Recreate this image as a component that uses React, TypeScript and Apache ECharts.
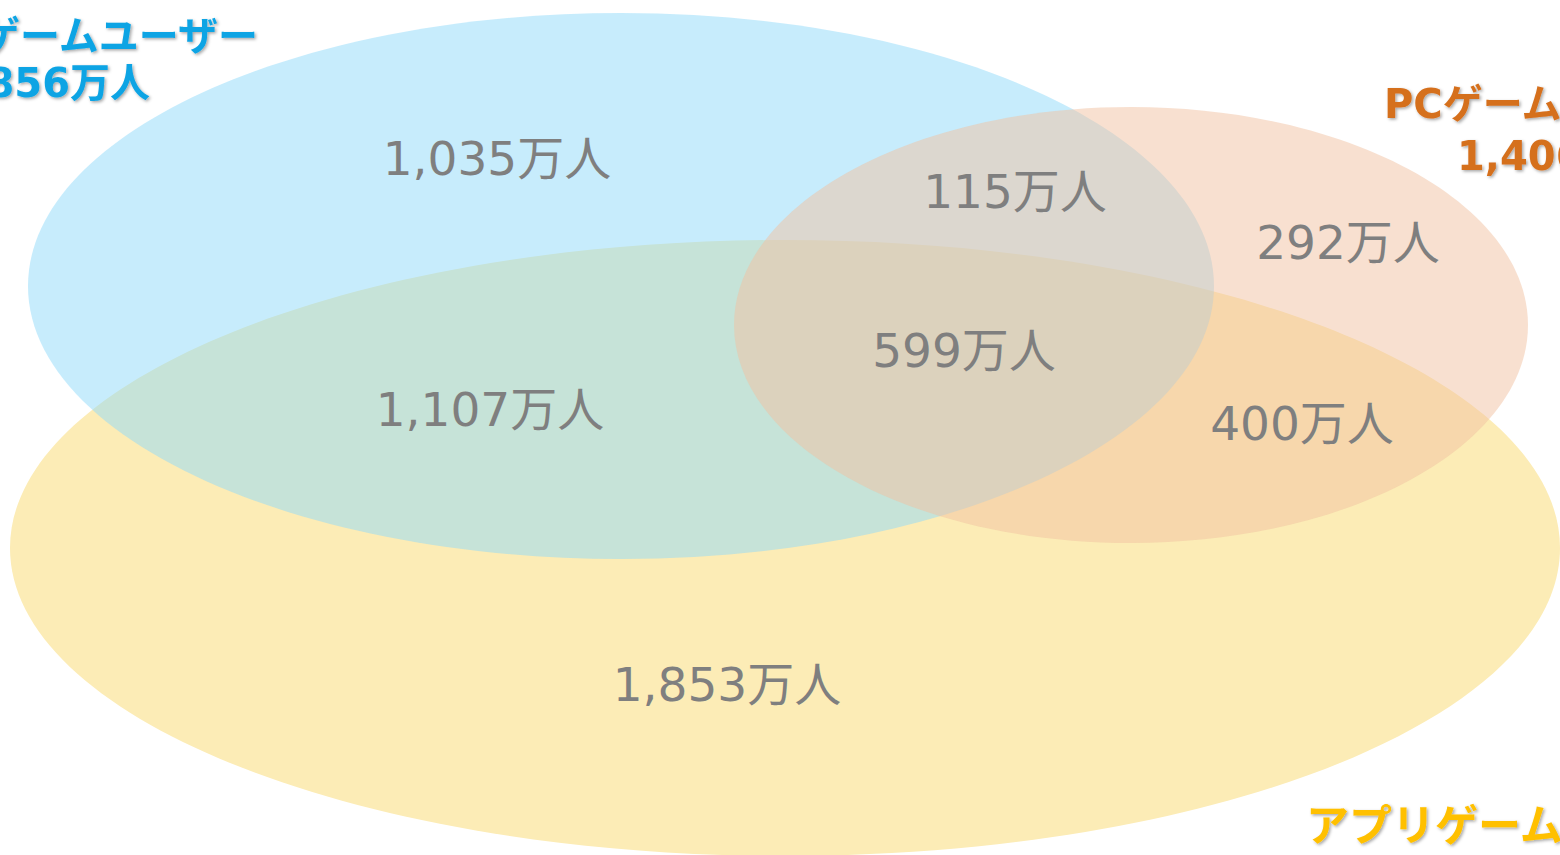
import React, { useEffect, useRef } from "react";
import * as echarts from "echarts";

// Set names and totals (万人)
const setNames = ["家庭用ゲームユーザー", "PCゲームユーザー", "アプリゲームユーザー"];
const setTotals = [2856, 1406, 3959];
// Region values (万人): console only, console+PC, PC only, all three, console+app, PC+app, app only
const regionNames = ["consoleOnly", "consolePc", "pcOnly", "all", "consoleApp", "pcApp", "appOnly"];
const regionValues = [1035, 115, 292, 599, 1107, 400, 1853];

const fmt = (v: number) => v.toLocaleString("en-US") + "万人";

export default function App() {
  const ref = useRef<HTMLDivElement>(null);
  useEffect(() => {
    if (!ref.current) return;
    const chart = echarts.init(ref.current, null, { renderer: "svg" });

    // layout (pixels)
    const ellipses = [
      { cx: 785, cy: 548, rx: 775, ry: 308, fill: "rgb(252,236,182)" }, // app (bottom)
      { cx: 621, cy: 286, rx: 593, ry: 273, fill: "rgba(145,218,249,0.51)" }, // console
      { cx: 1131, cy: 325, rx: 397, ry: 218, fill: "rgba(241,193,161,0.5)" }, // PC (top)
    ];
    const regionPos: Record<string, [number, number]> = {
      consoleOnly: [497, 158],
      consolePc: [1015, 191],
      pcOnly: [1348, 242],
      all: [964, 350],
      consoleApp: [490, 409],
      pcApp: [1302, 423],
      appOnly: [727, 684],
    };

    const labelFont = "DejaVu Sans, 'Noto Sans CJK JP', sans-serif";
    const titleFont = "DejaVu Sans, 'Noto Sans CJK JP', sans-serif";
    const shadow = {
      textShadowColor: "rgba(0,0,0,0.35)",
      textShadowBlur: 3,
      textShadowOffsetX: 1.5,
      textShadowOffsetY: 1.5,
    };

    const graphics: any[] = [];
    ellipses.forEach((e) => {
      graphics.push({
        type: "ellipse",
        shape: { cx: e.cx, cy: e.cy, rx: e.rx, ry: e.ry },
        style: { fill: e.fill },
        silent: true,
      });
    });
    regionNames.forEach((n, i) => {
      const [x, y] = regionPos[n];
      graphics.push({
        type: "text",
        x,
        y,
        style: {
          text: fmt(regionValues[i]),
          fill: "#7f7f7f",
          font: `47px ${labelFont}`,
          textAlign: "center",
          textVerticalAlign: "middle",
        },
      });
    });

    const titles = [
      { lines: [setNames[0], fmt(setTotals[0])], color: "#0FA4E4", size: 40, pos: [[258, 36, "right"], [150, 83, "right"]] },
      { lines: [setNames[1], fmt(setTotals[1])], color: "#D5701F", size: 40, pos: [[1384, 104, "left"], [1457, 156, "left"]] },
      { lines: [setNames[2], fmt(setTotals[2])], color: "#FFC000", size: 43, pos: [[1306, 826, "left"], [1380, 880, "left"]] },
    ];
    titles.forEach((t) => {
      t.lines.forEach((line, j) => {
        const [x, y, align] = t.pos[j] as [number, number, string];
        graphics.push({
          type: "text",
          x,
          y,
          style: {
            text: line,
            fill: t.color,
            font: `bold ${t.size}px ${titleFont}`,
            textAlign: align,
            textVerticalAlign: "middle",
            ...shadow,
          },
        });
      });
    });

    chart.setOption({
      animation: false,
      backgroundColor: "#ffffff",
      graphic: { elements: graphics },
    });
    return () => chart.dispose();
  }, []);
  return (
    <div
      ref={ref}
      style={{ position: "absolute", left: 0, top: 0, width: 1560, height: 855 }}
    />
  );
}
